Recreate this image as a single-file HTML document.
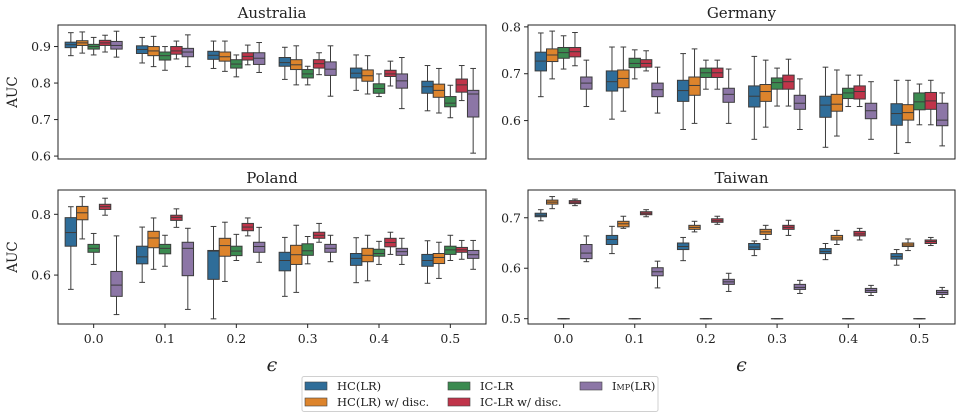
<!DOCTYPE html>
<html><head><meta charset="utf-8">
<style>
html,body{margin:0;padding:0;background:#fff;}
svg{display:block;font-family:"DejaVu Serif","Liberation Serif",serif;}
</style></head>
<body>
<svg id="chart" width="960" height="418" viewBox="0 0 960 418" xmlns="http://www.w3.org/2000/svg"></svg>
<script>
// ---- data: each entry = [whiskerLow, q1, median, q3, whiskerHigh] per epsilon ----
const epsilonLabels = ["0.0","0.1","0.2","0.3","0.4","0.5"];
const seriesNames = ["HC(LR)","HC(LR) w/ disc.","IC-LR","IC-LR w/ disc.","Imp(LR)"];

const ausHC   = [[.875,.897,.905,.912,.938],[.855,.881,.892,.902,.925],[.84,.865,.876,.887,.915],[.81,.846,.856,.87,.898],[.78,.814,.827,.841,.877],[.724,.772,.79,.805,.848]];
const ausHCd  = [[.882,.903,.91,.916,.94],[.845,.875,.888,.9,.928],[.832,.86,.872,.885,.915],[.795,.837,.85,.864,.902],[.77,.805,.82,.836,.875],[.718,.761,.78,.797,.84]];
const ausIC   = [[.877,.893,.9,.906,.925],[.835,.863,.875,.885,.9],[.817,.841,.852,.864,.877],[.795,.814,.825,.837,.846],[.763,.772,.785,.798,.825],[.705,.735,.745,.763,.794]];
const ausICd  = [[.885,.903,.91,.917,.931],[.866,.879,.888,.9,.915],[.85,.863,.873,.883,.904],[.823,.841,.853,.864,.883],[.792,.818,.825,.835,.86],[.752,.775,.795,.811,.848]];
const ausImp  = [[.871,.893,.903,.914,.942],[.845,.872,.885,.895,.932],[.829,.851,.868,.883,.911],[.764,.821,.838,.858,.902],[.73,.786,.806,.825,.87],[.608,.707,.77,.78,.84]];

const gerHC   = [[.651,.706,.727,.746,.787],[.603,.663,.683,.706,.757],[.581,.641,.664,.686,.743],[.56,.629,.652,.674,.737],[.543,.607,.633,.652,.714],[.53,.59,.615,.636,.686]];
const gerHCd  = [[.689,.726,.74,.753,.791],[.62,.67,.69,.708,.757],[.594,.654,.675,.693,.753],[.586,.641,.662,.677,.729],[.567,.62,.635,.656,.708],[.553,.601,.617,.634,.686]];
const gerIC   = [[.71,.733,.745,.756,.781],[.689,.713,.722,.733,.751],[.667,.692,.702,.712,.729],[.631,.667,.681,.691,.712],[.63,.647,.659,.669,.697],[.591,.623,.64,.659,.678]];
const gerICd  = [[.717,.736,.747,.756,.788],[.706,.714,.722,.73,.749],[.667,.692,.702,.712,.729],[.631,.667,.683,.697,.731],[.63,.646,.662,.674,.697],[.591,.624,.642,.66,.686]];
const gerImp  = [[.63,.667,.68,.693,.729],[.616,.651,.666,.68,.714],[.594,.639,.656,.669,.71],[.581,.624,.637,.654,.689],[.56,.604,.621,.637,.683],[.546,.589,.601,.637,.659]];

const polHC   = [[.553,.695,.74,.789,.825],[.576,.637,.66,.695,.758],[.456,.586,.679,.681,.76],[.53,.614,.648,.675,.724],[.575,.632,.655,.671,.723],[.573,.629,.648,.668,.713]];
const polHCd  = [[.719,.782,.805,.826,.858],[.619,.69,.722,.744,.788],[.579,.662,.697,.721,.774],[.543,.635,.667,.698,.764],[.581,.644,.665,.688,.731],[.589,.638,.658,.671,.708]];
const polIC   = [[.635,.675,.688,.701,.737],[.629,.67,.688,.701,.731],[.648,.664,.679,.695,.734],[.637,.665,.68,.703,.727],[.635,.662,.671,.685,.711],[.648,.668,.683,.695,.731]];
const polICd  = [[.797,.816,.825,.833,.853],[.757,.78,.79,.797,.818],[.729,.746,.758,.77,.788],[.708,.721,.731,.741,.77],[.668,.693,.707,.721,.741],[.652,.675,.683,.691,.714]];
const polImp  = [[.47,.53,.567,.612,.729],[.487,.598,.688,.708,.754],[.642,.675,.694,.708,.757],[.644,.675,.688,.701,.731],[.635,.665,.677,.688,.721],[.619,.655,.667,.681,.714]];

const taiHC   = [[.694,.702,.705,.709,.716],[.629,.647,.657,.665,.683],[.615,.637,.643,.65,.661],[.625,.637,.642,.649,.654],[.617,.629,.633,.639,.649],[.606,.618,.623,.629,.637]];
const taiHCd  = [[.718,.727,.731,.735,.742],[.679,.682,.688,.693,.703],[.672,.677,.681,.685,.693],[.657,.667,.672,.677,.685],[.647,.656,.66,.665,.675],[.635,.643,.646,.65,.658]];
const taiIC   = [[.5,.5,.5,.5,.5],[.5,.5,.5,.5,.5],[.5,.5,.5,.5,.5],[.5,.5,.5,.5,.5],[.5,.5,.5,.5,.5],[.5,.5,.5,.5,.5]];
const taiICd  = [[.724,.728,.731,.734,.737],[.702,.706,.709,.712,.716],[.687,.691,.694,.698,.703],[.665,.677,.681,.685,.695],[.656,.664,.668,.673,.679],[.645,.649,.653,.656,.661]];
const taiImp  = [[.613,.619,.63,.647,.664],[.561,.585,.593,.601,.614],[.554,.568,.573,.578,.59],[.55,.558,.562,.568,.576],[.546,.552,.556,.56,.566],[.542,.548,.552,.556,.562]];

const colors = ["#2f6d99","#dd842c","#3b8a50","#c0344a","#8c76a6"];
const NS = "http://www.w3.org/2000/svg";
const svg = document.getElementById('chart');
function mk(tag, attrs, parent){const e=document.createElementNS(NS,tag);for(const k in attrs)e.setAttribute(k,attrs[k]);(parent||svg).appendChild(e);return e;}

const panels = [
 {title:"Australia", key:"australia", l:58, r:486, t:25, b:159, ymin:.592, ymax:.959, ticks:[.6,.7,.8,.9], data:[ausHC,ausHCd,ausIC,ausICd,ausImp], ylab:true, xlab:false},
 {title:"Germany", key:"germany", l:528, r:955, t:25, b:159, ymin:.518, ymax:.804, ticks:[.6,.7,.8], data:[gerHC,gerHCd,gerIC,gerICd,gerImp], ylab:false, xlab:false},
 {title:"Poland", key:"poland", l:58, r:486, t:190, b:324, ymin:.439, ymax:.880, ticks:[.6,.8], data:[polHC,polHCd,polIC,polICd,polImp], ylab:true, xlab:true},
 {title:"Taiwan", key:"taiwan", l:528, r:955, t:190, b:324, ymin:.4895, ymax:.755, ticks:[.5,.6,.7], data:[taiHC,taiHCd,taiIC,taiICd,taiImp], ylab:false, xlab:true}
];

panels.forEach(p=>{
  const g = mk('g',{});
  
  
  const y = v => p.b - (v-p.ymin)/(p.ymax-p.ymin)*(p.b-p.t);
  const gw = (p.r-p.l)/epsilonLabels.length;
  const bw = gw*0.8/5;
  const xc = (i,j) => p.l + (i+0.5)*gw + (j-2)*bw;
  const title = mk('text',{x:(p.l+p.r)/2,y:p.t-7,'text-anchor':'middle','font-size':15,fill:'#222'},g);
  title.textContent = p.title;
  
  
  p.ticks.forEach(tv=>{
    const yy=y(tv);
    mk('line',{x1:p.l-4,x2:p.l,y1:yy,y2:yy,stroke:'#222','stroke-width':1},g);
    const tt=mk('text',{x:p.l-7,y:yy+4.5,'text-anchor':'end','font-size':12.5,fill:'#222'},g);
    tt.textContent=tv.toFixed(1);
    
    
  });
  epsilonLabels.forEach((lab,i)=>{
    const cx=p.l+(i+0.5)*gw;
    if(p.xlab){
      mk('line',{x1:cx,x2:cx,y1:p.b,y2:p.b+4,stroke:'#222','stroke-width':1},g);
      const tt=mk('text',{x:cx,y:p.b+19,'text-anchor':'middle','font-size':12.5,fill:'#222'},g);
      tt.textContent=lab;
      
      
    }
    p.data.forEach((ser,j)=>{
      const d=ser[i]; const x=xc(i,j);
      const bg=mk('g',{},g);
      
      
      const stroke='#3c3c3c';
      mk('line',{x1:x,x2:x,y1:y(d[0]),y2:y(d[1]),stroke:stroke,'stroke-width':1},bg);
      mk('line',{x1:x,x2:x,y1:y(d[3]),y2:y(d[4]),stroke:stroke,'stroke-width':1},bg);
      mk('line',{x1:x-bw/4,x2:x+bw/4,y1:y(d[0]),y2:y(d[0]),stroke:stroke,'stroke-width':1},bg);
      mk('line',{x1:x-bw/4,x2:x+bw/4,y1:y(d[4]),y2:y(d[4]),stroke:stroke,'stroke-width':1},bg);
      mk('rect',{x:x-bw/2,y:y(d[3]),width:bw,height:Math.max(0.1,y(d[1])-y(d[3])),fill:colors[j],stroke:stroke,'stroke-width':1},bg);
      mk('line',{x1:x-bw/2,x2:x+bw/2,y1:y(d[2]),y2:y(d[2]),stroke:stroke,'stroke-width':1},bg);
    });
  });
  mk('rect',{x:p.l,y:p.t,width:p.r-p.l,height:p.b-p.t,fill:'none',stroke:'#222','stroke-width':1},g);
  if(p.ylab){
    const yl=mk('text',{x:0,y:0,transform:`translate(17,${(p.t+p.b)/2}) rotate(-90)`,'text-anchor':'middle','font-size':13.5,fill:'#222'},g);
    yl.textContent='AUC';
    
    
  }
  if(p.xlab){
    const xl=mk('text',{x:(p.l+p.r)/2,y:371,'text-anchor':'middle','font-size':19,'font-style':'italic',fill:'#222'},g);
    xl.textContent='ϵ';
    
    
  }
});

// legend
const lg=mk('g',{});


mk('rect',{x:302,y:376.5,width:356,height:35,rx:2,fill:'#fff',stroke:'#d0d0d0','stroke-width':1},lg);
const legPos=[[305,386],[305,402],[448,386],[448,402],[580,386]];
seriesNames.forEach((n,j)=>{
  const e=mk('g',{},lg);
  
  
  const [lx,ly]=legPos[j];
  mk('rect',{x:lx,y:ly-4,width:22,height:8,fill:colors[j],stroke:'#444','stroke-width':0.6},e);
  const t=mk('text',{x:lx+32,y:ly+4,'font-size':11.5,fill:'#222'},e);
  if(j===4){t.setAttribute('font-variant','small-caps');}
  t.textContent=n;
});
</script>
</body></html>
